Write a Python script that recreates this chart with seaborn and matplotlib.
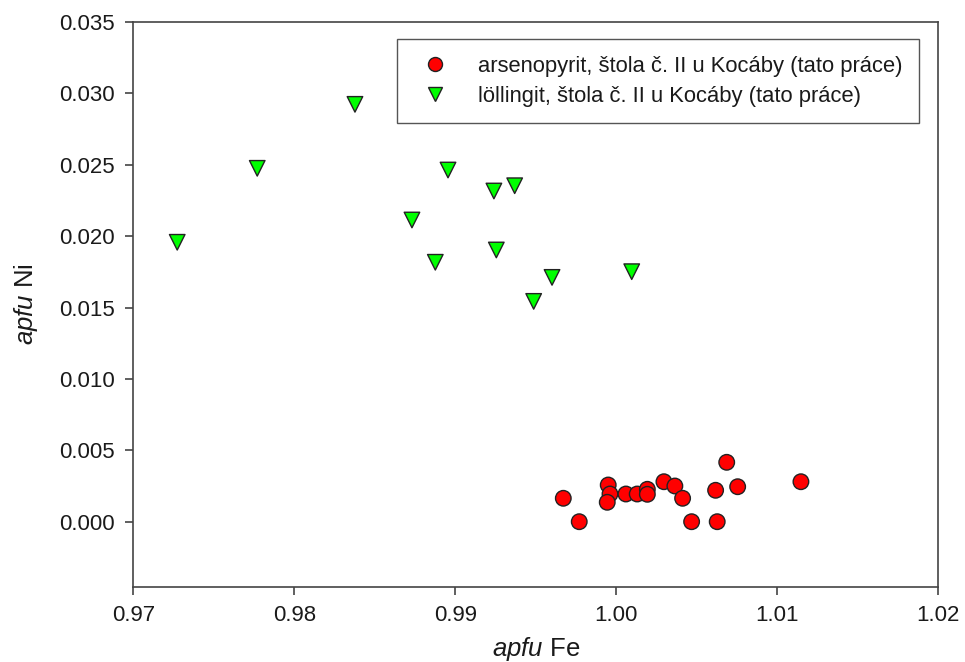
import numpy as np
import pandas as pd
import matplotlib
matplotlib.use("Agg")
import matplotlib.pyplot as plt
import seaborn as sns

# arsenopyrite analyses (apfu)
arsenopyrit_fe = [0.99671, 0.99770, 0.99950, 0.99961, 0.99944, 1.00060, 1.00130,
                  1.00193, 1.00193, 1.00296, 1.00364, 1.00412, 1.00468, 1.00617,
                  1.00627, 1.00686, 1.00754, 1.01147]
arsenopyrit_ni = [0.00164, 0.00000, 0.00257, 0.00194, 0.00136, 0.00194, 0.00194,
                  0.00227, 0.00192, 0.00280, 0.00250, 0.00164, 0.00000, 0.00220,
                  0.00000, 0.00416, 0.00245, 0.00280]

# löllingite analyses (apfu)
lollingit_fe = [0.97273, 0.97770, 0.98377, 0.98731, 0.98876, 0.98955, 0.99240,
                0.99255, 0.99369, 0.99487, 0.99601, 1.00096]
lollingit_ni = [0.01957, 0.02475, 0.02923, 0.02113, 0.01817, 0.02463, 0.02316,
                0.01903, 0.02353, 0.01543, 0.01711, 0.01751]

labels = ["arsenopyrit, štola č. II u Kocáby (tato práce)",
          "löllingit, štola č. II u Kocáby (tato práce)"]

x_ticks = [0.97, 0.98, 0.99, 1.00, 1.01, 1.02]
y_ticks = [0.000, 0.005, 0.010, 0.015, 0.020, 0.025, 0.030, 0.035]

df = pd.DataFrame({
    "Fe": arsenopyrit_fe + lollingit_fe,
    "Ni": arsenopyrit_ni + lollingit_ni,
    "mineral": [labels[0]] * len(arsenopyrit_fe) + [labels[1]] * len(lollingit_fe),
})

sns.set_theme(style="white")
plt.rcParams["font.family"] = ["Liberation Sans", "DejaVu Sans"]
plt.rcParams["mathtext.fontset"] = "custom"
plt.rcParams["mathtext.rm"] = "Liberation Sans"
plt.rcParams["mathtext.it"] = "Liberation Sans:italic"

fig = plt.figure(figsize=(9.65, 6.62), dpi=100)
ax = fig.add_axes([0.1381, 0.1138, 0.8342, 0.8530])

sns.scatterplot(
    data=df, x="Fe", y="Ni", hue="mineral", style="mineral",
    palette={labels[0]: "#ff0000", labels[1]: "#00ff00"},
    markers={labels[0]: "o", labels[1]: "v"},
    s=125, edgecolor="#222222", linewidth=1.0, ax=ax, zorder=3,
)

ax.set_xlim(0.97, 1.02)
ax.set_ylim(-0.00455, 0.035)
ax.set_xticks(x_ticks)
ax.set_xticklabels([f"{v:.2f}" for v in x_ticks])
ax.set_yticks(y_ticks)
ax.set_yticklabels([f"{v:.3f}" for v in y_ticks])

for sp in ax.spines.values():
    sp.set_color("#444444")
    sp.set_linewidth(1.2)
ax.tick_params(axis="both", direction="out", length=6, width=1.2,
               color="#444444", labelsize=16, labelcolor="#1a1a1a", pad=7,
               bottom=True, left=True)

ax.set_xlabel(r"$\it{apfu}$ Fe", fontsize=18.5, color="#1a1a1a", labelpad=7)
ax.set_ylabel(r"$\it{apfu}$ Ni", fontsize=18.5, color="#1a1a1a", labelpad=14)

handles, lbls = ax.get_legend_handles_labels()
leg = ax.legend(
    handles, lbls, loc="upper left", bbox_to_anchor=(0.3272, 0.9694),
    fontsize=15.8, frameon=True, fancybox=False, framealpha=1,
    edgecolor="#555555", borderpad=0.75, handletextpad=0.95,
    labelspacing=0.42, borderaxespad=0, markerscale=0.9,
)
leg.get_frame().set_linewidth(1.0)
for t in leg.get_texts():
    t.set_color("#1a1a1a")

fig.savefig("out.png", dpi=100)
